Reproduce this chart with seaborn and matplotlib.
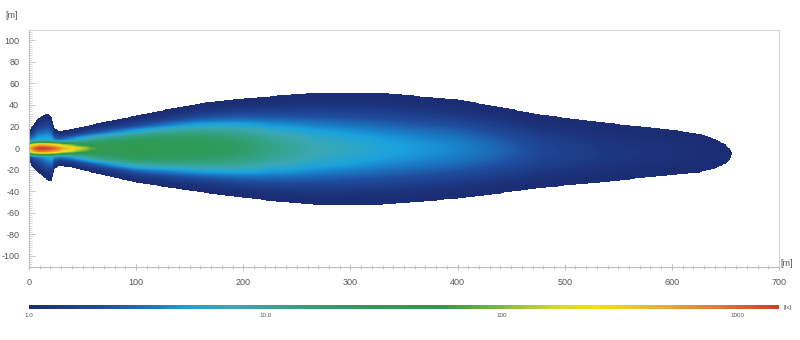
import numpy as np
import matplotlib
matplotlib.use("Agg")
import matplotlib.pyplot as plt
import seaborn as sns
from matplotlib.colors import LogNorm, LinearSegmentedColormap
from matplotlib.ticker import MultipleLocator, FixedLocator, LogLocator, NullFormatter

# ---- data (metres / lux) ----
edge_dist  = [0, 1, 3.7, 8.4, 13, 17.7, 21, 22.4, 24, 27, 29, 40, 60, 100, 130, 160, 195, 225, 265, 330,
              400, 440, 477, 533, 580, 610, 626, 640, 650, 654, 656]
edge_upper = [14, 17, 21, 27.5, 30, 32, 28.5, 24, 18, 16, 15.5, 17.5, 22, 30, 36, 41.5, 45.5, 48, 51, 51,
              45, 38, 31, 24, 19, 15.5, 13, 8.5, 3, -0.5, -5]
edge_lower = [-12, -13.5, -18, -22.5, -26.5, -30, -30, -25.6, -19, -17, -16.5, -18, -23, -32, -36.5, -41, -45.5, -49, -52.5, -52.5,
              -47, -42, -37, -32, -27, -24, -22.5, -19, -14.5, -10.5, -5]

base_dist = [0, 10, 20, 28, 40, 60, 100, 160, 225, 265, 330, 400, 477, 533, 580, 626, 656]
base_lux  = [6, 6.5, 7.5, 9.5, 16, 32, 45, 30, 12, 7.5, 5.0, 3.6, 1.75, 1.3, 1.15, 1.05, 1.0]

core_dist = [0, 5, 10, 16, 23, 32, 45, 58, 72]
core_lux  = [250, 1000, 1500, 1450, 1000, 450, 160, 45, 0]
core_center = -0.5
core_width = 3.0

x_ticks = [0, 100, 200, 300, 400, 500, 600, 700]
y_ticks = [-100, -80, -60, -40, -20, 0, 20, 40, 60, 80, 100]
cbar_ticks = [1, 10, 100, 1000]
cbar_labels = ["1.0", "10.0", "100", "1000"]

cmap_pos = [0.0, 0.10, 0.17, 0.21, 0.27, 0.33, 0.42, 0.55, 0.63, 0.70, 0.76, 0.84, 0.90, 0.96, 1.0]
cmap_col = ["#1b2d74", "#1f4e9f", "#1a7fc8", "#1aa2de", "#3aa8b4", "#35a38c", "#2e9b62",
            "#2f9a48", "#80b93a", "#d2d826", "#f0df1c", "#efb02a", "#e8852e", "#dc5a2d", "#d23e2a"]

# ---- build field ----
sns.set_theme(style="white")
plt.rcParams['font.family'] = ['Liberation Sans', 'DejaVu Sans']
plt.rcParams['axes.unicode_minus'] = False

xs = np.arange(0, 700.01, 0.5)
ys = np.arange(-110, 110.01, 0.5)
X, Y = np.meshgrid(xs, ys)
up = np.interp(xs, edge_dist, edge_upper)
lo = np.interp(xs, edge_dist, edge_lower)
cen = (up + lo) / 2
hw = np.maximum((up - lo) / 2, 1e-6)
T = (Y - cen[None, :]) / hw[None, :]
base = np.interp(xs, base_dist, base_lux)[None, :]
f = np.clip(1 - T ** 2, 0, None) ** 2.4
lux = base ** f
core = np.interp(xs, core_dist, core_lux)[None, :] * np.exp(-((Y - core_center) / core_width) ** 2)
Z = lux + core
inside = (np.abs(T) <= 1) & (X <= edge_dist[-1]) & ((up - lo)[None, :] > 0.3)
Z = np.where(inside, Z, np.nan)

cmap = LinearSegmentedColormap.from_list("lx", list(zip(cmap_pos, cmap_col)))
norm = LogNorm(vmin=1, vmax=1500)

fig = plt.figure(figsize=(8, 3.4), dpi=100)
ax = fig.add_axes([29 / 800, 1 - 266.5 / 340, 750 / 800, 237 / 340])
mesh = ax.pcolormesh(xs, ys, Z, cmap=cmap, norm=norm, shading="auto", rasterized=True)
ax.set_xlim(0, 700)
ax.set_ylim(-110, 110)
ax.set_facecolor("white")
for s in ax.spines.values():
    s.set_color("#d4d4d4")
    s.set_linewidth(0.8)
ax.spines['left'].set_color("#bdbdbd")
ax.spines['bottom'].set_color("#bdbdbd")

ax.xaxis.set_major_locator(FixedLocator(x_ticks))
ax.yaxis.set_major_locator(FixedLocator(y_ticks))
ax.xaxis.set_minor_locator(MultipleLocator(10))
ax.yaxis.set_minor_locator(MultipleLocator(2))
ax.tick_params(axis='x', which='both', direction='inout', colors="#b0b0b0", labelcolor="#555555",
               labelsize=6.5, pad=6, bottom=True, top=False)
ax.tick_params(axis='x', which='major', length=5, width=0.6)
ax.tick_params(axis='x', which='minor', length=3, width=0.5)
ax.tick_params(axis='y', which='both', direction='in', colors="#c0c0c0", labelcolor="#555555",
               labelsize=6.5, pad=7, left=True, right=False)
ax.tick_params(axis='y', which='major', length=4, width=0.6)
ax.tick_params(axis='y', which='minor', length=2.5, width=0.4)

fig.text(12 / 800, 1 - 15 / 340, "[m]", fontsize=6.5, color="#555555", ha="center", va="center")
fig.text(787 / 800, 1 - 263 / 340, "[m]", fontsize=6.5, color="#555555", ha="center", va="center")

# ---- colorbar ----
cax = fig.add_axes([29 / 800, 1 - 309 / 340, 750 / 800, 4.5 / 340])
cb = fig.colorbar(mesh, cax=cax, orientation="horizontal")
cb.outline.set_visible(False)
cb.set_ticks(cbar_ticks)
cb.set_ticklabels(cbar_labels)
cax.xaxis.set_minor_locator(LogLocator(base=10, subs=np.arange(2, 10)))
cax.xaxis.set_minor_formatter(NullFormatter())
cax.tick_params(axis='x', which='major', direction='in', length=3, width=0.5, color="#e8e8e8",
                labelsize=4.5, labelcolor="#555555", pad=3)
cax.tick_params(axis='x', which='minor', direction='in', length=2, width=0.4, color="#e8e8e8")
fig.text(788 / 800, 1 - 307 / 340, "[lx]", fontsize=4.5, color="#555555", ha="center", va="center")

fig.savefig("out.png", dpi=100)
